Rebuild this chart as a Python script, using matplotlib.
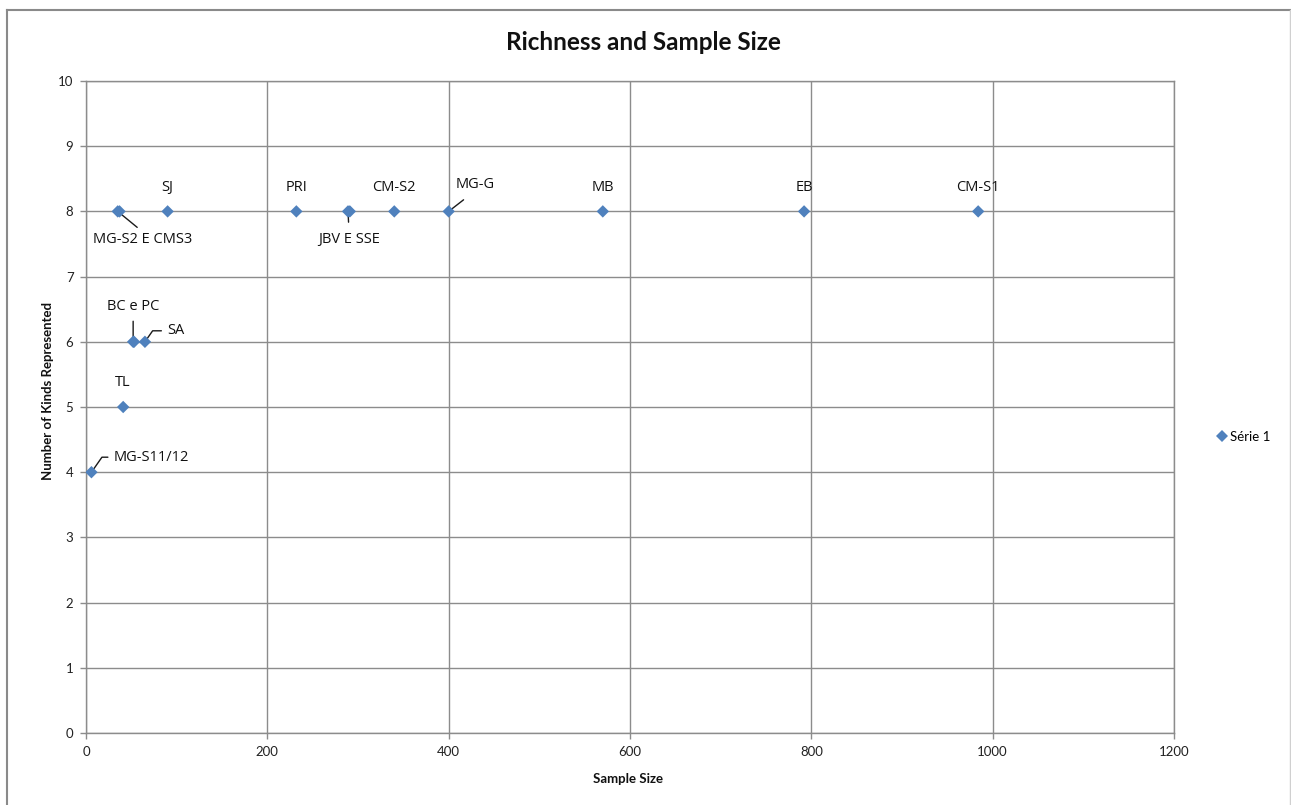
import matplotlib
matplotlib.use("Agg")
import matplotlib.pyplot as plt
from matplotlib.lines import Line2D

# Sites: sample size vs. number of kinds represented
sites = ["MG-S11/12", "TL", "BC", "PC", "SA", "MG-S2", "CMS3", "SJ", "PRI",
         "JBV", "SSE", "CM-S2", "MG-G", "MB", "EB", "CM-S1"]
sample_size = [6, 41, 52, 53, 65, 35, 37, 90, 232, 289, 291, 340, 400, 570, 792, 984]
kinds = [4, 5, 6, 6, 6, 8, 8, 8, 8, 8, 8, 8, 8, 8, 8, 8]

# Point labels (one per labelled point, index into the arrays above)
label_texts = ["MG-S11/12", "TL", "BC e PC", "SA", "MG-S2 E CMS3", "SJ", "PRI",
               "JBV E SSE", "CM-S2", "MG-G", "MB", "EB", "CM-S1"]
label_index = [0, 1, 2, 4, 5, 7, 8, 9, 11, 12, 13, 14, 15]

x_ticks = [0, 200, 400, 600, 800, 1000, 1200]
y_ticks = list(range(0, 11))

# Label placement: (dx, dy) offsets in pixels, alignment, leader line spec
# leader spec: (relpos on text box, shrink at text, connection style) or None
label_style = {
    "MG-S11/12":    (22, 15, "left", ((0, 0.5), 2, "angle,angleA=0,angleB=55,rad=0")),
    "TL":           (0, 24, "center", None),
    "BC e PC":      (0, 35, "center", ((0.5, 0), 3, "arc3")),
    "SA":           (22, 11, "left", ((0, 0.5), 2, "angle,angleA=0,angleB=55,rad=0")),
    "MG-S2 E CMS3": (25, -28, "center", ((0.5, 1), 2, "arc3")),
    "SJ":           (0, 24, "center", None),
    "PRI":          (0, 24, "center", None),
    "JBV E SSE":    (1, -28, "center", ((0.5, 1), 5, "arc3")),
    "CM-S2":        (0, 24, "center", None),
    "MG-G":         (27, 27, "center", ((0.45, 0), 6, "arc3")),
    "MB":           (0, 24, "center", None),
    "EB":           (0, 24, "center", None),
    "CM-S1":        (0, 24, "center", None),
}

W, H, DPI = 1291, 805, 100
fig = plt.figure(figsize=(W / DPI, H / DPI), dpi=DPI)
fig.patch.set_facecolor("white")

left, right, top, bottom = 86, 1174, 81, 733
ax = fig.add_axes([left / W, 1 - bottom / H, (right - left) / W, (bottom - top) / H])

grid_color = "#8c8c8c"
marker_color = "#4f81bd"
font = "Lato"

ax.scatter(sample_size, kinds, marker="D", s=40, color=marker_color,
           edgecolors="none", zorder=3, label="Série 1")

ax.set_xlim(0, 1200)
ax.set_ylim(0, 10)
ax.set_xticks(x_ticks)
ax.set_yticks(y_ticks)
ax.grid(True, color=grid_color, linewidth=1.0)
ax.set_axisbelow(True)
for side, sp in ax.spines.items():
    sp.set_color(grid_color)
    sp.set_linewidth(1.0)
ax.tick_params(axis="both", length=4, width=1, color=grid_color,
               labelsize=9.5, labelcolor="#222222", pad=5)
for lbl in ax.get_xticklabels() + ax.get_yticklabels():
    lbl.set_fontfamily(font)

for text, idx in zip(label_texts, label_index):
    dx, dy, ha, leader = label_style[text]
    px, py = sample_size[idx], kinds[idx]
    arrow = None
    if leader is not None:
        relpos, shrink_a, conn = leader
        arrow = dict(arrowstyle="-", color="#1a1a1a", lw=1.0, relpos=relpos,
                     shrinkA=shrink_a, shrinkB=1, connectionstyle=conn)
    ax.annotate(text, xy=(px, py), xytext=(dx, dy), textcoords="offset pixels",
                ha=ha, va="center", fontsize=10.5, fontfamily="Open Sans",
                color="#111111", zorder=2, arrowprops=arrow)

fig.text(643 / W, 1 - 42 / H, "Richness and Sample Size", ha="center", va="center",
         fontsize=17.5, fontweight="bold", fontfamily=font, color="#111111")
fig.text(628 / W, 1 - 779 / H, "Sample Size", ha="center", va="center",
         fontsize=9.5, fontweight="bold", fontfamily=font, color="#111111")
fig.text(48 / W, 1 - 391 / H, "Number of Kinds Represented", ha="center", va="center",
         rotation=90, fontsize=9.5, fontweight="bold", fontfamily=font, color="#111111")

handle = Line2D([], [], marker="D", linestyle="none", color=marker_color,
                markersize=6, markeredgewidth=0)
fig.legend([handle], ["Série 1"], loc="center left",
           bbox_to_anchor=(1209 / W, 1 - 437 / H), frameon=False,
           prop={"family": font, "size": 9.5}, handletextpad=0.1,
           borderpad=0, handlelength=1.0)

# chart area frame
fig.add_artist(Line2D([7 / W, 7 / W], [0, 1 - 10.5 / H], transform=fig.transFigure,
                      color="#8a8a8a", lw=1.5))
fig.add_artist(Line2D([7 / W, 1290 / W], [1 - 10.5 / H, 1 - 10.5 / H],
                      transform=fig.transFigure, color="#8a8a8a", lw=1.5))
fig.add_artist(Line2D([1290 / W, 1290 / W], [0, 1 - 10.5 / H], transform=fig.transFigure,
                      color="#d0d0d0", lw=1.0))

fig.savefig("out.png", dpi=DPI, facecolor="white")
